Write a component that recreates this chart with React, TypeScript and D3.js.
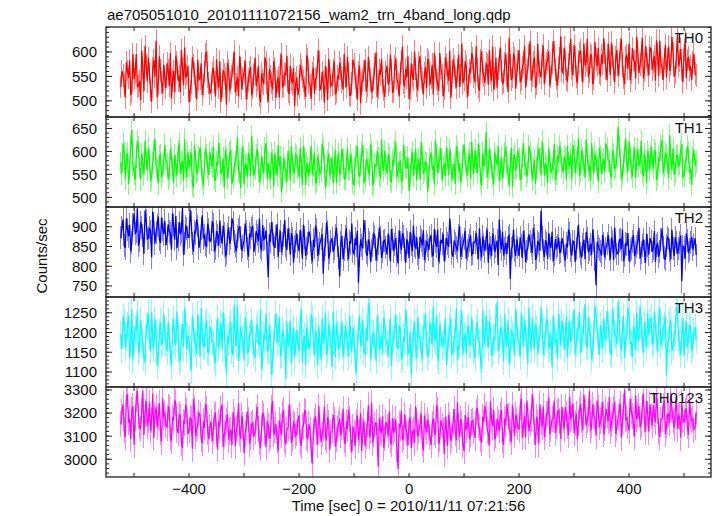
import React from "react";
import * as d3 from "d3";

const TITLE = "ae705051010_20101111072156_wam2_trn_4band_long.qdp";
const X_LABEL = "Time [sec] 0 = 2010/11/11 07:21:56";
const Y_LABEL = "Counts/sec";

const BAND_NAMES = ["TH0", "TH1", "TH2", "TH3", "TH0123"];
const BAND_COLORS = ["#ff0000", "#00ff00", "#0000ff", "#00ffff", "#ff00ff"];
const BAND_ERRORS = [23, 24, 29, 34, 56];
const Y_DOMAINS: [number, number][] = [
  [467, 651],
  [479, 675],
  [722, 950],
  [1062, 1290],
  [2923, 3313],
];
const Y_MAJOR_TICKS = [
  [500, 550, 600],
  [500, 550, 600, 650],
  [750, 800, 850, 900],
  [1100, 1150, 1200, 1250],
  [3000, 3100, 3200, 3300],
];
const Y_MINOR_STEP = [10, 10, 10, 10, 20];
const X_DOMAIN: [number, number] = [-551, 549];
const X_TICKS = [-500, -400, -300, -200, -100, 0, 100, 200, 300, 400, 500];
const X_TICK_LABELS = [-400, -200, 0, 200, 400];

// Samples in set A are at T_START + 4k; samples in set B at T_START + 2 + 4k.
const T_START = -524;
const T_STEP = 4;
const T_OFFSET_B = 2;

const TH0_A = [
  528, 552, 507, 561, 583, 519, 545, 596, 531, 502, 568, 612, 540, 557, 498, 584, 623, 536, 562, 515,
  549, 577, 530, 505, 561, 592, 541, 518, 566, 609, 553, 497, 538, 572, 528, 584, 546, 512, 559, 601,
  537, 522, 568, 509, 546, 581, 529, 555, 492, 563, 538, 576, 517, 548, 591, 524, 560, 503, 542, 569,
  526, 588, 544, 511, 557, 534, 579, 498, 551, 523, 566, 540, 507, 595, 531, 554, 519, 572, 536, 489,
  548, 527, 563, 541, 508, 585, 532, 556, 514, 547, 603, 525, 538, 571, 502, 559, 533, 581, 518, 544,
  566, 523, 549, 590, 512, 537, 575, 529, 558, 495, 542, 584, 531, 561, 517, 546, 599, 527, 553, 538,
  508, 572, 541, 563, 520, 587, 534, 556, 611, 529, 548, 504, 577, 543, 565, 521, 592, 539, 557, 526,
  581, 547, 513, 569, 535, 598, 552, 524, 574, 541, 506, 585, 548, 562, 529, 617, 544, 571, 532, 559,
  587, 538, 564, 521, 602, 551, 576, 533, 558, 611, 546, 527, 583, 561, 540, 596, 518, 572, 549, 588,
  556, 604, 543, 578, 527, 565, 622, 551, 589, 536, 571, 548, 613, 562, 584, 531, 577, 599, 545, 568,
  632, 557, 583, 541, 596, 566, 614, 549, 580, 603, 538, 572, 627, 559, 591, 546, 585, 608, 553, 576,
  598, 542, 581, 619, 563, 589, 551, 606, 572, 534, 593, 617, 558, 584, 546, 601, 574, 629, 561, 588,
  552, 607, 579, 541, 596, 623, 565, 586, 548, 611, 573, 598, 557, 635, 582, 564, 604, 547, 590, 571,
  578, 556,
];
const TH0_B = [
  561, 534, 579, 547, 512, 596, 558, 529, 541, 603, 519, 572, 588, 523, 566, 549, 507, 591, 538, 574,
  526, 563, 598, 542, 517, 579, 551, 604, 532, 548, 571, 520, 589, 556, 503, 543, 577, 531, 595, 549,
  514, 557, 539, 585, 527, 498, 563, 546, 578, 521, 550, 601, 533, 509, 567, 545, 582, 526, 559, 511,
  553, 530, 571, 497, 542, 589, 518, 565, 537, 582, 506, 548, 575, 529, 556, 592, 514, 543, 567, 535,
  512, 574, 549, 526, 593, 537, 504, 568, 545, 581, 523, 559, 496, 547, 586, 530, 562, 515, 551, 578,
  539, 596, 528, 555, 511, 584, 547, 503, 572, 536, 561, 519, 590, 544, 527, 575, 508, 563, 586, 522,
  559, 533, 594, 518, 571, 546, 509, 582, 537, 565, 591, 524, 552, 601, 531, 578, 547, 513, 569, 586,
  532, 574, 598, 545, 521, 567, 509, 589, 556, 603, 538, 571, 527, 594, 552, 536, 581, 507, 563, 598,
  549, 612, 527, 583, 559, 536, 572, 604, 541, 523, 588, 565, 609, 534, 577, 552, 629, 543, 597, 525,
  581, 538, 569, 612, 553, 594, 541, 578, 526, 617, 558, 593, 534, 576, 601, 549, 622, 563, 531, 588,
  561, 609, 544, 574, 627, 552, 589, 536, 598, 563, 617, 581, 549, 596, 534, 621, 571, 557, 594, 628,
  566, 617, 553, 592, 538, 604, 576, 627, 548, 589, 565, 542, 608, 581, 631, 557, 593, 546, 612, 574,
  609, 563, 592, 624, 551, 578, 543, 614, 586, 561, 631, 549, 589, 571, 606, 538, 619, 584, 562, 543,
  596, 552,
];

const TH1_A = [
  575, 618, 541, 596, 563, 647, 552, 589, 610, 538, 574, 623, 559, 582, 545, 601, 567, 530, 593, 556,
  614, 572, 548, 587, 531, 569, 602, 551, 579, 626, 544, 565, 598, 523, 581, 557, 609, 540, 574, 592,
  549, 583, 612, 536, 568, 594, 557, 521, 587, 563, 603, 542, 576, 631, 555, 584, 528, 570, 597, 546,
  578, 561, 605, 533, 589, 552, 618, 574, 539, 582, 596, 548, 567, 511, 585, 559, 601, 537, 573, 554,
  590, 544, 568, 612, 527, 563, 581, 549, 598, 535, 572, 556, 604, 520, 579, 547, 588, 566, 531, 595,
  558, 583, 540, 607, 562, 575, 526, 591, 553, 569, 614, 538, 577, 549, 598, 532, 566, 585, 545, 573,
  602, 551, 587, 533, 569, 620, 556, 578, 541, 593, 564, 514, 581, 547, 606, 572, 538, 589, 559, 575,
  545, 598, 567, 624, 552, 583, 537, 571, 609, 548, 586, 562, 529, 595, 574, 551, 616, 565, 582, 540,
  577, 603, 553, 589, 526, 568, 642, 559, 584, 546, 597, 571, 535, 588, 563, 611, 549, 578, 522, 594,
  566, 585, 543, 619, 572, 556, 599, 538, 581, 563, 607, 548, 592, 575, 531, 586, 562, 616, 551, 578,
  597, 554, 583, 612, 566, 539, 601, 577, 629, 558, 586, 543, 595, 569, 618, 552, 580, 534, 591, 572,
  556, 608, 579, 545, 592, 567, 653, 583, 550, 599, 573, 621, 561, 587, 542, 605, 575, 558, 594, 531,
  584, 611, 563, 597, 549, 578, 625, 568, 592, 541, 583, 607, 556, 589, 572, 616, 547, 581, 598, 562,
  588, 569,
];
const TH1_B = [
  552, 597, 584, 529, 611, 571, 538, 623, 566, 594, 549, 583, 607, 536, 575, 628, 558, 589, 544, 571,
  581, 539, 605, 563, 592, 547, 618, 574, 535, 566, 599, 582, 527, 614, 553, 590, 571, 526, 606, 563,
  598, 566, 541, 577, 619, 551, 585, 603, 542, 596, 529, 568, 590, 557, 520, 612, 573, 545, 581, 634,
  547, 592, 574, 551, 568, 607, 539, 556, 597, 523, 571, 614, 588, 542, 563, 533, 579, 612, 556, 594,
  563, 608, 527, 586, 575, 546, 612, 568, 532, 589, 551, 617, 573, 548, 596, 562, 531, 603, 578, 549,
  606, 541, 572, 559, 593, 531, 587, 611, 545, 598, 532, 583, 561, 614, 527, 572, 601, 549, 626, 558,
  569, 594, 538, 582, 601, 543, 575, 532, 612, 566, 587, 548, 599, 572, 537, 584, 621, 554, 576, 512,
  586, 563, 529, 592, 577, 608, 566, 547, 583, 604, 537, 573, 611, 558, 534, 589, 576, 547, 596, 621,
  551, 574, 618, 539, 596, 581, 543, 605, 567, 528, 582, 612, 559, 542, 597, 573, 526, 608, 584, 561,
  603, 537, 588, 571, 546, 612, 574, 563, 529, 594, 583, 622, 546, 568, 604, 553, 579, 537, 591, 612,
  566, 589, 537, 574, 595, 614, 552, 586, 547, 603, 571, 626, 558, 537, 584, 596, 563, 608, 551, 583,
  617, 579, 548, 603, 561, 588, 612, 539, 574, 628, 556, 591, 544, 607, 582, 568, 623, 546, 579, 601,
  559, 578, 604, 538, 587, 613, 552, 596, 574, 635, 561, 549, 592, 568, 601, 544, 579, 612, 553, 527,
  604, 578,
];

const TH2_A = [
  872, 918, 846, 893, 905, 861, 934, 887, 852, 912, 878, 941, 869, 897, 823, 908, 885, 926, 859, 894,
  915, 871, 889, 842, 903, 927, 866, 881, 948, 858, 896, 874, 911, 837, 884, 902, 863, 929, 877, 851,
  892, 868, 906, 845, 879, 916, 857, 883, 831, 898, 870, 912, 853, 876, 901, 839, 866, 887, 824, 873,
  902, 855, 879, 921, 842, 868, 891, 772, 862, 884, 847, 907, 866, 835, 878, 853, 896, 829, 871, 849,
  883, 838, 861, 905, 826, 857, 879, 812, 848, 893, 842, 869, 781, 855, 887, 834, 871, 846, 898, 823,
  859, 817, 876, 842, 864, 908, 831, 853, 758, 868, 845, 889, 826, 861, 839, 882, 814, 857, 873, 836,
  866, 829, 851, 894, 838, 872, 807, 859, 884, 843, 868, 821, 856, 903, 847, 832, 875, 853, 816, 864,
  841, 877, 828, 862, 893, 835, 858, 812, 871, 849, 886, 824, 857, 838, 901, 846, 869, 819, 852, 878,
  833, 861, 845, 896, 822, 854, 871, 809, 847, 883, 836, 865, 918, 842, 827, 859, 874, 768, 851, 839,
  868, 826, 853, 889, 811, 846, 862, 834, 877, 823, 858, 941, 841, 866, 819, 853, 887, 829, 847, 872,
  836, 859, 814, 848, 883, 827, 862, 845, 905, 832, 856, 818, 871, 843, 829, 866, 752, 851, 838, 879,
  822, 857, 841, 873, 816, 849, 832, 868, 893, 827, 854, 812, 846, 879, 835, 861, 819, 852, 838, 882,
  829, 864, 846, 811, 857, 838, 896, 823, 852, 869, 817, 845, 874, 832, 861, 762, 848, 883, 836, 859,
  842, 871,
];
const TH2_B = [
  897, 852, 921, 876, 838, 906, 883, 947, 864, 899, 831, 915, 872, 889, 938, 857, 903, 868, 924, 881,
  853, 906, 884, 934, 867, 846, 912, 889, 829, 901, 873, 942, 858, 887, 919, 846, 895, 871, 854, 908,
  861, 914, 837, 889, 852, 874, 903, 826, 881, 857, 921, 863, 838, 894, 872, 851, 908, 845, 882, 896,
  836, 889, 863, 847, 904, 871, 832, 881, 912, 854, 876, 823, 889, 858, 917, 841, 869, 884, 809, 862,
  851, 892, 819, 873, 846, 888, 835, 867, 903, 826, 858, 881, 843, 911, 819, 864, 836, 879, 852, 774,
  877, 843, 896, 818, 857, 836, 871, 889, 826, 852, 917, 834, 868, 812, 853, 876, 842, 898, 821, 864,
  847, 883, 812, 869, 856, 828, 891, 842, 875, 809, 861, 887, 838, 852, 873, 819, 866, 891, 837, 853,
  872, 826, 894, 849, 811, 867, 882, 843, 857, 921, 833, 865, 848, 879, 824, 853, 889, 841, 866, 829,
  861, 884, 819, 842, 876, 838, 893, 857, 826, 869, 851, 803, 862, 887, 846, 831, 878, 844, 893, 826,
  847, 873, 821, 862, 838, 881, 852, 897, 816, 864, 839, 872, 823, 858, 884, 846, 812, 869, 853, 835,
  871, 826, 857, 893, 839, 864, 811, 873, 849, 822, 867, 887, 835, 856, 892, 817, 862, 843, 827, 858,
  846, 879, 817, 862, 898, 831, 866, 843, 812, 857, 884, 839, 863, 826, 851, 897, 834, 868, 809, 853,
  871, 836, 889, 852, 824, 868, 847, 816, 873, 839, 892, 826, 859, 844, 878, 851, 819, 866, 842, 874,
  856, 828,
];

const TH3_A = [
  1195, 1241, 1162, 1218, 1137, 1259, 1183, 1206, 1148, 1232, 1171, 1124, 1213, 1186, 1252, 1159, 1198, 1141, 1227, 1175,
  1209, 1152, 1188, 1117, 1235, 1168, 1199, 1134, 1221, 1263, 1157, 1182, 1103, 1214, 1173, 1246, 1139, 1192, 1165, 1228,
  1149, 1203, 1176, 1121, 1238, 1184, 1157, 1212, 1096, 1171, 1226, 1143, 1197, 1269, 1162, 1188, 1129, 1217, 1154, 1201,
  1179, 1135, 1222, 1167, 1108, 1194, 1248, 1156, 1185, 1126, 1211, 1173, 1239, 1145, 1191, 1082, 1164, 1229, 1178, 1137,
  1206, 1153, 1257, 1181, 1119, 1196, 1168, 1233, 1142, 1187, 1215, 1131, 1174, 1249, 1158, 1199, 1113, 1183, 1224, 1161,
  1192, 1136, 1217, 1171, 1243, 1152, 1188, 1099, 1205, 1166, 1231, 1144, 1179, 1261, 1157, 1196, 1128, 1213, 1175, 1147,
  1221, 1169, 1197, 1115, 1185, 1246, 1159, 1208, 1138, 1177, 1228, 1151, 1093, 1194, 1166, 1239, 1182, 1132, 1211, 1174,
  1153, 1204, 1267, 1178, 1141, 1219, 1163, 1195, 1118, 1186, 1236, 1157, 1201, 1129, 1172, 1254, 1188, 1145, 1215, 1167,
  1198, 1134, 1226, 1175, 1107, 1191, 1244, 1162, 1209, 1148, 1183, 1277, 1169, 1202, 1126, 1187, 1231, 1155, 1196, 1142,
  1218, 1173, 1251, 1164, 1199, 1121, 1186, 1238, 1159, 1207, 1176, 1264, 1143, 1192, 1225, 1168, 1112, 1203, 1181, 1247,
  1166, 1214, 1189, 1137, 1229, 1196, 1258, 1172, 1211, 1149, 1186, 1273, 1163, 1205, 1131, 1194, 1242, 1177, 1218, 1158,
  1201, 1256, 1183, 1144, 1223, 1192, 1279, 1168, 1209, 1136, 1197, 1247, 1174, 1216, 1153, 1188, 1268, 1181, 1227, 1162,
  1195, 1238, 1171, 1212, 1149, 1263, 1186, 1219, 1091, 1178, 1232, 1165, 1204, 1257, 1174, 1196, 1141, 1228, 1183, 1209,
  1167, 1214,
];
const TH3_B = [
  1158, 1226, 1187, 1243, 1174, 1129, 1211, 1255, 1166, 1193, 1137, 1219, 1248, 1152, 1181, 1234, 1116, 1204, 1169, 1247,
  1173, 1228, 1141, 1204, 1179, 1253, 1126, 1187, 1163, 1217, 1192, 1138, 1241, 1176, 1145, 1209, 1262, 1167, 1223, 1151,
  1216, 1178, 1135, 1197, 1161, 1224, 1252, 1143, 1189, 1207, 1152, 1271, 1166, 1128, 1214, 1182, 1239, 1147, 1193, 1231,
  1148, 1207, 1176, 1259, 1137, 1181, 1154, 1218, 1093, 1172, 1249, 1198, 1142, 1207, 1166, 1228, 1189, 1121, 1213, 1176,
  1169, 1231, 1124, 1192, 1213, 1158, 1246, 1179, 1205, 1117, 1171, 1236, 1187, 1143, 1221, 1176, 1253, 1139, 1198, 1166,
  1229, 1171, 1195, 1138, 1182, 1212, 1127, 1174, 1243, 1189, 1151, 1212, 1276, 1134, 1198, 1173, 1241, 1156, 1192, 1237,
  1182, 1141, 1236, 1174, 1207, 1163, 1218, 1132, 1189, 1256, 1146, 1203, 1172, 1227, 1133, 1194, 1158, 1215, 1248, 1139,
  1226, 1168, 1189, 1243, 1127, 1198, 1174, 1236, 1159, 1213, 1142, 1184, 1263, 1167, 1225, 1143, 1193, 1211, 1169, 1238,
  1153, 1214, 1178, 1132, 1257, 1169, 1196, 1229, 1141, 1187, 1238, 1152, 1214, 1181, 1246, 1167, 1118, 1207, 1184, 1261,
  1185, 1139, 1208, 1232, 1174, 1263, 1157, 1194, 1221, 1147, 1187, 1216, 1171, 1236, 1159, 1198, 1243, 1176, 1133, 1212,
  1229, 1157, 1241, 1198, 1176, 1221, 1143, 1209, 1252, 1182, 1231, 1167, 1238, 1189, 1156, 1267, 1201, 1144, 1196, 1235,
  1178, 1221, 1149, 1262, 1197, 1171, 1233, 1154, 1241, 1186, 1263, 1172, 1138, 1204, 1251, 1179, 1214, 1149, 1193, 1248,
  1226, 1172, 1254, 1189, 1231, 1166, 1208, 1241, 1175, 1217, 1152, 1193, 1268, 1183, 1144, 1237, 1197, 1162, 1219, 1153,
  1204, 1181,
];

const TH0123_A = [
  3152, 3238, 3097, 3281, 3176, 3214, 3063, 3259, 3188, 3129, 3297, 3205, 3144, 3246, 3171, 3092, 3227, 3183, 3118, 3264,
  3196, 3137, 3221, 3078, 3168, 3243, 3112, 3185, 3049, 3157, 3209, 3126, 3174, 3261, 3101, 3148, 3192, 3069, 3135, 3218,
  3087, 3163, 3121, 3198, 3043, 3142, 3237, 3108, 3166, 3084, 3129, 3204, 3057, 3151, 3113, 3189, 3026, 3139, 3172, 3095,
  3158, 3116, 3227, 3074, 3134, 3187, 3052, 3145, 3101, 3253, 3128, 3081, 3169, 3106, 3213, 3064, 3137, 3179, 3093, 3149,
  3112, 3191, 3058, 3143, 3207, 3089, 3126, 2981, 3164, 3118, 3232, 3075, 3139, 3097, 3184, 3041, 3122, 3171, 3086, 3154,
  3103, 3219, 3067, 3131, 3176, 3029, 3114, 3158, 3082, 3199, 3121, 3056, 3147, 3095, 3246, 3108, 3161, 2967, 3128, 3185,
  3091, 3142, 3207, 3064, 3119, 3173, 2958, 3137, 3083, 3194, 3112, 3166, 3048, 3125, 3229, 3097, 3153, 3071, 3188, 3116,
  3139, 3061, 3177, 3104, 3212, 3088, 3146, 3023, 3131, 3193, 3079, 3162, 3115, 3247, 3098, 3154, 3036, 3126, 3181, 3108,
  3167, 3092, 3223, 3134, 3071, 3159, 3198, 3113, 3251, 3141, 3086, 3176, 3124, 3214, 3062, 3149, 3189, 3117, 3236, 3103,
  3171, 3128, 3263, 3146, 3095, 3202, 3157, 3281, 3119, 3184, 3067, 3163, 3229, 3136, 3195, 3108, 3174, 3254, 3142, 3211,
  3089, 3168, 3226, 3145, 3272, 3183, 3114, 3197, 3158, 3239, 3126, 3208, 3171, 3294, 3149, 3187, 3102, 3221, 3166, 3248,
  3137, 3193, 3268, 3154, 3216, 3109, 3182, 3241, 3163, 3301, 3178, 3124, 3209, 3156, 3277, 3192, 3138, 3226, 3171, 3253,
  3119, 3185, 3234, 3161, 3209, 3097, 3176, 3258, 3142, 3196, 3288, 3167, 3213, 3131, 3184, 3245, 3158, 3221, 3106, 3192,
  3173, 3139,
];
const TH0123_B = [
  3204, 3126, 3268, 3159, 3087, 3231, 3177, 3296, 3142, 3211, 3105, 3252, 3168, 3124, 3285, 3193, 3138, 3242, 3076, 3186,
  3149, 3227, 3094, 3181, 3254, 3128, 3196, 3071, 3163, 3237, 3109, 3178, 3046, 3219, 3132, 3201, 3087, 3164, 3239, 3116,
  3142, 3078, 3189, 3107, 3161, 3219, 3052, 3134, 3195, 3118, 3061, 3172, 3126, 3243, 3089, 3147, 3112, 3208, 3067, 3153,
  3097, 3182, 3131, 3048, 3201, 3118, 3166, 3089, 3224, 3107, 3152, 3037, 3141, 3196, 3083, 3127, 3238, 3071, 3159, 3102,
  3168, 3074, 3139, 3211, 3096, 3152, 3041, 3121, 3187, 3063, 3142, 3109, 3228, 3082, 3157, 3116, 3193, 3054, 3131, 3176,
  3138, 3084, 3161, 3215, 3093, 3142, 3057, 3189, 3119, 3036, 3167, 3102, 3234, 3126, 3071, 3148, 3093, 3179, 3112, 3049,
  3163, 3104, 3082, 3178, 3129, 3046, 3153, 3211, 3094, 3137, 3059, 3182, 3116, 3071, 3164, 3124, 3197, 3038, 3141, 3172,
  3094, 3152, 3118, 3236, 3067, 3169, 3121, 3183, 3058, 3147, 3102, 3216, 3083, 3138, 3174, 3063, 3192, 3149, 3087, 3163,
  3121, 3206, 3147, 3088, 3183, 3232, 3127, 3061, 3168, 3214, 3103, 3157, 3191, 3082, 3176, 3239, 3131, 3074, 3168, 3193,
  3138, 3226, 3094, 3187, 3251, 3121, 3172, 3214, 3063, 3159, 3238, 3141, 3096, 3197, 3268, 3137, 3182, 3113, 3206, 3164,
  3227, 3131, 3192, 3104, 3176, 3243, 3159, 3087, 3214, 3168, 3279, 3146, 3197, 3123, 3236, 3181, 3254, 3139, 3192, 3107,
  3219, 3164, 3121, 3187, 3249, 3137, 3206, 3093, 3228, 3172, 3143, 3262, 3188, 3097, 3174, 3232, 3151, 3284, 3119, 3197,
  3238, 3146, 3197, 3282, 3124, 3172, 3229, 3108, 3193, 3157, 3217, 3136, 3264, 3189, 3093, 3174, 3211, 3142, 3256, 3168,
  3127, 3204,
];

const SERIES_A = [TH0_A, TH1_A, TH2_A, TH3_A, TH0123_A];
const SERIES_B = [TH0_B, TH1_B, TH2_B, TH3_B, TH0123_B];

const W = 717;
const H = 516;
const LEFT = 106;
const RIGHT = 711;
const TOP = 27;
const PANEL_H = 90;
const FONT = "'Liberation Sans', Arial, Helvetica, sans-serif";
const AXIS_COLOR = "#222";

function fmt(v: number) {
  return v < 0 ? "\u2212" + Math.abs(v) : String(v);
}

function merge(a: number[], b: number[]) {
  const pts: { t: number; v: number }[] = [];
  const n = Math.max(a.length, b.length);
  for (let k = 0; k < n; k++) {
    if (k < a.length) pts.push({ t: T_START + k * T_STEP, v: a[k] });
    if (k < b.length) pts.push({ t: T_START + T_OFFSET_B + k * T_STEP, v: b[k] });
  }
  return pts;
}

export default function App() {
  const x = d3.scaleLinear().domain(X_DOMAIN).range([LEFT, RIGHT]);
  const bottom = TOP + PANEL_H * SERIES_A.length;

  return (
    <svg width={W} height={H} style={{ position: "absolute", left: 0, top: 0, background: "#fff" }} fontFamily={FONT}>
      <text x={107} y={20} fontSize={15} fill="#111">{TITLE}</text>
      {SERIES_A.map((a, i) => {
        const pts = merge(a, SERIES_B[i]);
        const top = TOP + i * PANEL_H;
        const bot = top + PANEL_H;
        const y = d3.scaleLinear().domain(Y_DOMAINS[i]).range([bot, top]);
        const err = BAND_ERRORS[i];
        const line = d3.line<{ t: number; v: number }>()
          .x((d) => x(d.t))
          .y((d) => y(d.v))(pts) as string;
        const errPath = pts
          .map((d) => `M${x(d.t).toFixed(2)},${y(d.v - err).toFixed(2)}V${y(d.v + err).toFixed(2)}`)
          .join("");
        const [d0, d1] = Y_DOMAINS[i];
        const step = Y_MINOR_STEP[i];
        const minor = d3.range(Math.ceil(d0 / step) * step, d1 + 0.001, step);
        const clipId = `clip${i}`;
        return (
          <g key={i}>
            <defs>
              <clipPath id={clipId}>
                <rect x={LEFT} y={top} width={RIGHT - LEFT} height={PANEL_H} />
              </clipPath>
            </defs>
            <g clipPath={`url(#${clipId})`}>
              <path d={errPath} stroke={BAND_COLORS[i]} strokeOpacity={0.5} strokeWidth={1} fill="none" shapeRendering="crispEdges" />
              <path d={line} stroke={BAND_COLORS[i]} strokeWidth={1.3} fill="none" />
            </g>
            {minor.map((v) => (
              <g key={"m" + v}>
                <line x1={LEFT} x2={LEFT + 3} y1={y(v)} y2={y(v)} stroke={AXIS_COLOR} strokeWidth={1} />
                <line x1={RIGHT} x2={RIGHT - 3} y1={y(v)} y2={y(v)} stroke={AXIS_COLOR} strokeWidth={1} />
              </g>
            ))}
            {Y_MAJOR_TICKS[i].map((v) => (
              <g key={"M" + v}>
                <line x1={LEFT} x2={LEFT + 6} y1={y(v)} y2={y(v)} stroke={AXIS_COLOR} strokeWidth={1} />
                <line x1={RIGHT} x2={RIGHT - 6} y1={y(v)} y2={y(v)} stroke={AXIS_COLOR} strokeWidth={1} />
                <text x={97} y={y(v)} dy="0.36em" textAnchor="end" fontSize={15} fill="#111">{v}</text>
              </g>
            ))}
            {X_TICKS.map((t) => (
              <g key={"x" + t}>
                <line x1={x(t)} x2={x(t)} y1={top} y2={top + 4} stroke={AXIS_COLOR} strokeWidth={1} />
                <line x1={x(t)} x2={x(t)} y1={bot} y2={bot - 4} stroke={AXIS_COLOR} strokeWidth={1} />
              </g>
            ))}
            <text x={703} y={top + 16} textAnchor="end" fontSize={15} fill="#111">{BAND_NAMES[i]}</text>
            <rect x={LEFT} y={top} width={RIGHT - LEFT} height={PANEL_H} fill="none" stroke={AXIS_COLOR} strokeWidth={1.3} />
          </g>
        );
      })}
      {X_TICK_LABELS.map((t) => (
        <text key={"xl" + t} x={x(t)} y={494} textAnchor="middle" fontSize={15} fill="#111">{fmt(t)}</text>
      ))}
      <text x={(LEFT + RIGHT) / 2} y={511} textAnchor="middle" fontSize={15} fill="#111">{X_LABEL}</text>
      <text transform={`translate(47,${(TOP + bottom) / 2 + 4}) rotate(-90)`} textAnchor="middle" fontSize={15} fill="#111">{Y_LABEL}</text>
    </svg>
  );
}
